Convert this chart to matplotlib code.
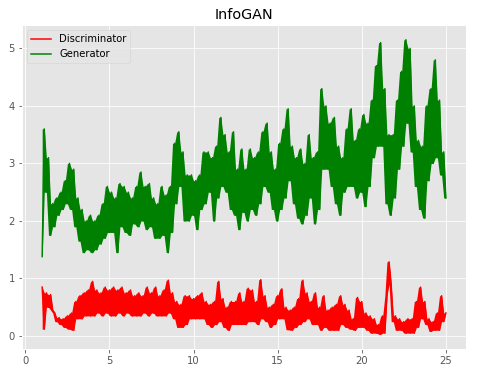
import numpy as np
import matplotlib
matplotlib.use('Agg')
from matplotlib import pyplot as plt

# Loss curves read off the picture, sampled every 0.125 epoch from 1 to 25
# (one row per epoch, alternating high/low swings of the noisy trace)
generator = [
    1.38, 3.6, 2.5, 3.1, 1.75, 2.3, 1.9, 2.4,
    2.1, 2.5, 2.2, 2.7, 2.3, 3.0, 2.2, 2.9,
    1.9, 2.4, 1.65, 2.2, 1.45, 2.0, 1.5, 2.1,
    1.45, 2.0, 1.5, 2.1, 1.6, 2.3, 1.7, 2.6,
    1.8, 2.5, 1.8, 2.4, 1.45, 2.65, 1.9, 2.6,
    1.8, 2.5, 1.75, 2.4, 1.95, 2.6, 1.9, 2.85,
    2.0, 2.6, 1.85, 2.65, 1.9, 2.4, 1.7, 2.3,
    1.7, 2.6, 1.75, 2.45, 1.45, 2.6, 1.8, 3.35,
    2.3, 3.55, 2.6, 3.2, 2.0, 2.8, 2.0, 2.8,
    2.1, 2.7, 1.85, 2.8, 2.2, 3.2, 2.3, 3.2,
    2.5, 3.1, 2.0, 3.3, 2.4, 3.8, 2.6, 3.5,
    2.5, 3.2, 2.2, 3.55, 2.1, 2.9, 1.85, 3.25,
    2.15, 2.9, 2.0, 3.25, 2.2, 3.1, 2.1, 3.2,
    2.3, 3.55, 2.6, 3.7, 2.5, 3.2, 2.2, 2.9,
    2.0, 3.35, 2.2, 3.6, 2.4, 3.95, 2.7, 3.3,
    2.3, 3.1, 2.05, 3.25, 1.95, 3.0, 2.1, 3.5,
    2.4, 3.1, 1.95, 3.2, 2.2, 4.3, 2.9, 4.0,
    2.9, 3.7, 2.6, 3.8, 2.3, 3.3, 2.1, 3.1,
    2.5, 3.6, 2.6, 3.95, 2.6, 3.4, 2.4, 3.6,
    2.5, 3.85, 2.25, 3.7, 2.6, 4.1, 3.1, 4.7,
    3.3, 5.1, 3.3, 4.3, 2.3, 3.5, 2.1, 3.5,
    2.4, 4.1, 2.9, 4.6, 3.3, 5.15, 3.7, 5.0,
    3.2, 4.0, 2.6, 3.4, 2.2, 3.3, 2.05, 4.0,
    2.7, 4.3, 3.0, 4.8, 3.1, 4.1, 2.8, 3.2,
    2.4,
]
discriminator = [
    0.85, 0.12, 0.75, 0.5, 0.72, 0.45, 0.4, 0.25,
    0.32, 0.2, 0.3, 0.15, 0.35, 0.12, 0.4, 0.1,
    0.6, 0.3, 0.7, 0.3, 0.75, 0.35, 0.8, 0.35,
    0.95, 0.35, 0.8, 0.4, 0.75, 0.35, 0.85, 0.4,
    0.8, 0.35, 0.85, 0.35, 0.8, 0.4, 0.85, 0.35,
    0.75, 0.4, 0.8, 0.35, 0.7, 0.35, 0.75, 0.35,
    0.7, 0.4, 0.85, 0.35, 0.75, 0.4, 0.85, 0.35,
    0.7, 0.35, 0.8, 0.35, 0.97, 0.4, 0.75, 0.3,
    0.6, 0.15, 0.55, 0.15, 0.7, 0.2, 0.7, 0.3,
    0.65, 0.3, 0.7, 0.3, 0.75, 0.3, 0.6, 0.2,
    0.55, 0.15, 0.6, 0.2, 0.95, 0.25, 0.65, 0.15,
    0.5, 0.1, 0.6, 0.2, 0.6, 0.2, 0.75, 0.2,
    0.6, 0.2, 0.83, 0.25, 0.8, 0.25, 0.6, 0.2,
    0.98, 0.3, 0.7, 0.25, 0.5, 0.15, 0.55, 0.2,
    0.7, 0.3, 0.82, 0.3, 0.5, 0.11, 0.45, 0.1,
    0.5, 0.15, 0.65, 0.2, 0.97, 0.25, 0.75, 0.3,
    0.6, 0.2, 0.75, 0.2, 0.5, 0.1, 0.7, 0.15,
    0.45, 0.1, 0.5, 0.1, 0.55, 0.1, 0.7, 0.2,
    0.55, 0.15, 0.45, 0.12, 0.3, 0.1, 0.67, 0.15,
    0.6, 0.15, 0.4, 0.1, 0.35, 0.05, 0.3, 0.05,
    0.2, 0.03, 0.35, 0.05, 0.7, 1.29, 0.9, 0.25,
    0.35, 0.1, 0.3, 0.1, 0.25, 0.05, 0.3, 0.05,
    0.3, 0.05, 0.6, 0.15, 0.85, 0.3, 0.6, 0.2,
    0.3, 0.08, 0.25, 0.1, 0.4, 0.1, 0.7, 0.25,
    0.4,
]
first_epoch = 1
last_epoch = 25

epochs = np.linspace(first_epoch, last_epoch, len(generator))


def envelope(vals):
    # band between neighbouring swings, so the dense trace reads as a solid band
    v = np.asarray(vals)
    nxt = np.append(v[1:], v[-1])
    return np.minimum(v, nxt), np.maximum(v, nxt)


plt.style.use('ggplot')
fig = plt.figure(figsize=(477 / 72, 374 / 72), dpi=72)
ax = fig.add_axes([22 / 477, 25 / 374, 444 / 477, 324 / 374])

for vals, col, name in [(discriminator, 'red', 'Discriminator'),
                        (generator, 'green', 'Generator')]:
    lo, hi = envelope(vals)
    ax.fill_between(epochs, lo, hi, color=col, linewidth=0)
    ax.plot(epochs, vals, color=col, linewidth=1.5, label=name)

ax.set_title('InfoGAN')
ax.legend(loc='upper left')

fig.savefig('out.png', dpi=72)
